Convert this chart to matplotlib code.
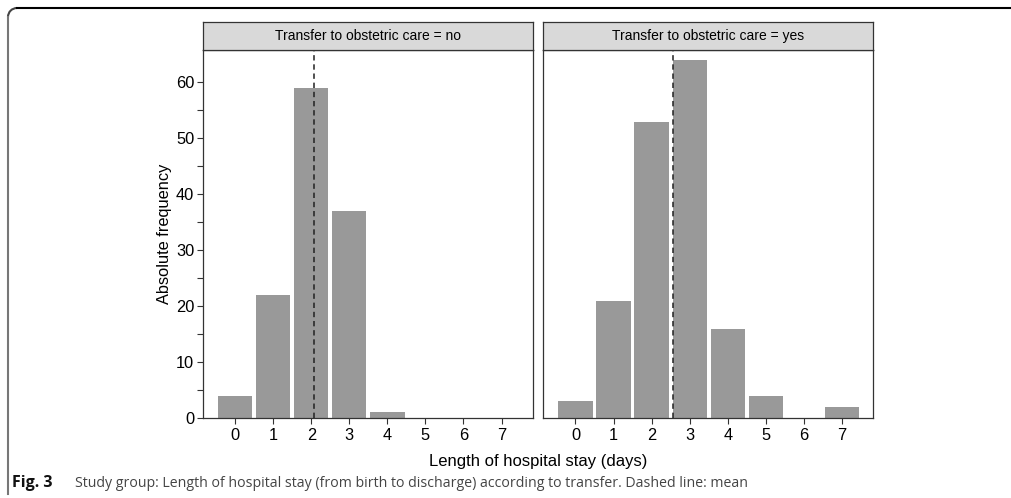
import numpy as np
import matplotlib.pyplot as plt
from matplotlib.lines import Line2D
from matplotlib.patches import Arc

plt.rcParams['font.family'] = ['Liberation Sans', 'DejaVu Sans']

# Length of hospital stay (days) and counts per transfer group
days = [0, 1, 2, 3, 4, 5, 6, 7]
counts_no = [4, 22, 59, 37, 1, 0, 0, 0]
counts_yes = [3, 21, 53, 64, 16, 4, 0, 2]
panel_titles = ["Transfer to obstetric care = no", "Transfer to obstetric care = yes"]

W, H = 1011, 498
fig = plt.figure(figsize=(W / 100, H / 100), dpi=100)

bar_col = '#999999'
edge_col = '#333333'

def px_box(x0, y0, x1, y1):
    # pixel box (top-left origin) -> figure fraction rect
    return [x0 / W, 1 - y1 / H, (x1 - x0) / W, (y1 - y0) / H]

panels = [(202.5, 532.7, counts_no), (542.7, 873.3, counts_yes)]
for i, (x0, x1, counts) in enumerate(panels):
    ax = fig.add_axes(px_box(x0, 50.5, x1, 418))
    ax.bar(days, counts, width=0.9, color=bar_col, zorder=2)
    mean = np.sum(np.array(days) * np.array(counts)) / np.sum(counts)
    ax.axvline(mean, color='#222222', lw=1.1, ls=(0, (3.5, 2.5)), zorder=3)
    ax.set_xlim(-0.86, 7.82)
    ax.set_ylim(0, 65.7)
    ax.set_xticks(days)
    ax.tick_params(axis='x', length=4, width=0.8, color=edge_col, labelsize=11.8, pad=3)
    if i == 0:
        ax.set_yticks(range(0, 61, 10))
        ax.set_yticks(range(5, 61, 10), minor=True)
        ax.tick_params(axis='y', which='both', length=4, width=0.8, color=edge_col,
                       labelsize=11.8, pad=2)
        ax.set_ylabel("Absolute frequency", fontsize=11.8, labelpad=3)
    else:
        ax.set_yticks([])
    for s in ax.spines.values():
        s.set_color(edge_col)
        s.set_linewidth(0.9)
    # facet strip
    sax = fig.add_axes(px_box(x0, 21.5, x1, 50.5))
    sax.set_facecolor('#d9d9d9')
    sax.set_xticks([])
    sax.set_yticks([])
    for s in sax.spines.values():
        s.set_color(edge_col)
        s.set_linewidth(0.9)
    sax.text(0.5, 0.5, panel_titles[i], ha='center', va='center', fontsize=10,
             transform=sax.transAxes)

fig.text(538 / W, 1 - 461 / H, "Length of hospital stay (days)", ha='center',
         va='center', fontsize=12)

# caption
cap_y = 1 - 483 / H
fig.text(12 / W, cap_y, "Fig. 3", fontsize=11.5, fontweight='bold',
         family=['Open Sans', 'DejaVu Sans'], va='center', color='#111111')
fig.text(75 / W, cap_y,
         "Study group: Length of hospital stay (from birth to discharge) according to transfer. Dashed line: mean",
         fontsize=10.2, family=['Open Sans', 'DejaVu Sans'], va='center', color='#444444')

# frame of the figure box
fig.add_artist(Line2D([17 / W, 1], [1 - 8 / H, 1 - 8 / H], color='black', lw=1.5))
fig.add_artist(Line2D([8 / W, 8 / W], [1 - 17 / H, 1 - 494 / H], color='#777777', lw=1.5))
fig.add_artist(Arc((17 / W, 1 - 17 / H), 18 / W, 18 / H, theta1=90, theta2=180,
                   color='#444444', lw=1.5, transform=fig.transFigure))

fig.savefig('out.png', dpi=100)
